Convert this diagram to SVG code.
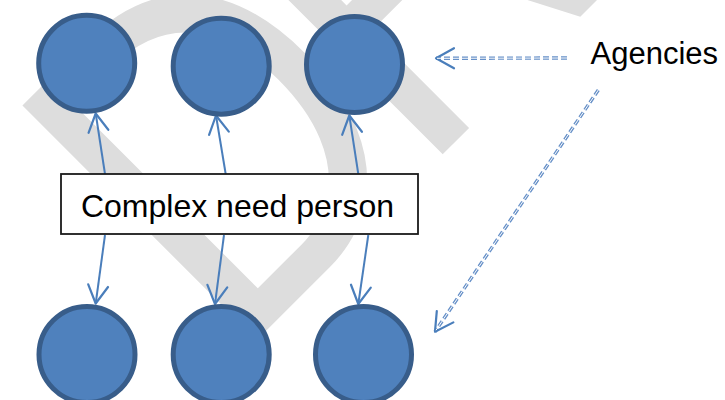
<svg xmlns="http://www.w3.org/2000/svg" width="725" height="400" viewBox="0 0 725 400">
  <style>
    .agency { fill: #4f81bd; stroke: #385d8a; stroke-width: 5; }
    .conn { fill: none; stroke: #4a7ebb; stroke-width: 2; }
    .dash-out { fill: none; stroke: #6690c8; stroke-width: 3.4; stroke-dasharray: 6 3; }
    .dash-in { fill: none; stroke: #ffffff; stroke-width: 1; stroke-dasharray: 6 3; }
    .label { font-family: "Liberation Sans", Arial, sans-serif; font-size: 32px; fill: #000000; }
    .watermark { font-family: "Liberation Sans", Arial, sans-serif; font-size: 482px; fill: #dddddd; }
  </style>
  <defs>
    <marker id="arrow" viewBox="-21 -12 23 24" refX="0" refY="0" markerWidth="23" markerHeight="24" markerUnits="userSpaceOnUse" orient="auto" overflow="visible">
      <path d="M-18,-10 L0,0 L-18,10" fill="none" stroke="#4a7ebb" stroke-width="2.2" stroke-linecap="round" stroke-linejoin="round"/>
    </marker>
  </defs>
  <rect width="725" height="400" fill="#ffffff"/>
  <g id="watermark">
    <text class="watermark" transform="translate(233.7,363.3) rotate(-45) scale(0.83,1)" x="0" y="0" letter-spacing="-31.5">DRAFT</text>
  </g>
  <g id="connectors">
    <line class="conn" x1="105" y1="174" x2="95.7" y2="113.5" marker-end="url(#arrow)"/>
    <line class="conn" x1="225.7" y1="174" x2="216" y2="115.5" marker-end="url(#arrow)"/>
    <line class="conn" x1="358.3" y1="174" x2="349.3" y2="115.5" marker-end="url(#arrow)"/>
    <line class="conn" x1="105" y1="235" x2="95.7" y2="303.5" marker-end="url(#arrow)"/>
    <line class="conn" x1="224" y1="235" x2="215" y2="304" marker-end="url(#arrow)"/>
    <line class="conn" x1="368.3" y1="235" x2="358.3" y2="304" marker-end="url(#arrow)"/>
    <line class="dash-out" x1="567" y1="58" x2="436" y2="58.3" marker-end="url(#arrow)"/>
    <line class="dash-in" x1="567" y1="58" x2="437" y2="58.3"/>
    <line class="dash-out" x1="598.3" y1="90" x2="435" y2="331.7" marker-end="url(#arrow)"/>
    <line class="dash-in" x1="598.3" y1="90" x2="436" y2="330.2"/>
  </g>
  <g id="agency-top-1"><circle class="agency" cx="86.7" cy="63.3" r="48"/></g>
  <g id="agency-top-2"><circle class="agency" cx="221.2" cy="66.2" r="48"/></g>
  <g id="agency-top-3"><circle class="agency" cx="354.5" cy="64.5" r="48"/></g>
  <g id="agency-bottom-1"><circle class="agency" cx="87" cy="354.5" r="48"/></g>
  <g id="agency-bottom-2"><circle class="agency" cx="221.2" cy="354.5" r="48"/></g>
  <g id="agency-bottom-3"><circle class="agency" cx="363.5" cy="354.5" r="48"/></g>
  <g id="complex-need-person">
    <rect x="61" y="174" width="357" height="60" fill="#ffffff" stroke="#1a1a1a" stroke-width="1.8"/>
    <text class="label" x="237.5" y="216.5" text-anchor="middle">Complex need person</text>
  </g>
  <g id="agencies-label">
    <text class="label" x="590.5" y="64.3" style="font-size:31px">Agencies</text>
  </g>
</svg>
